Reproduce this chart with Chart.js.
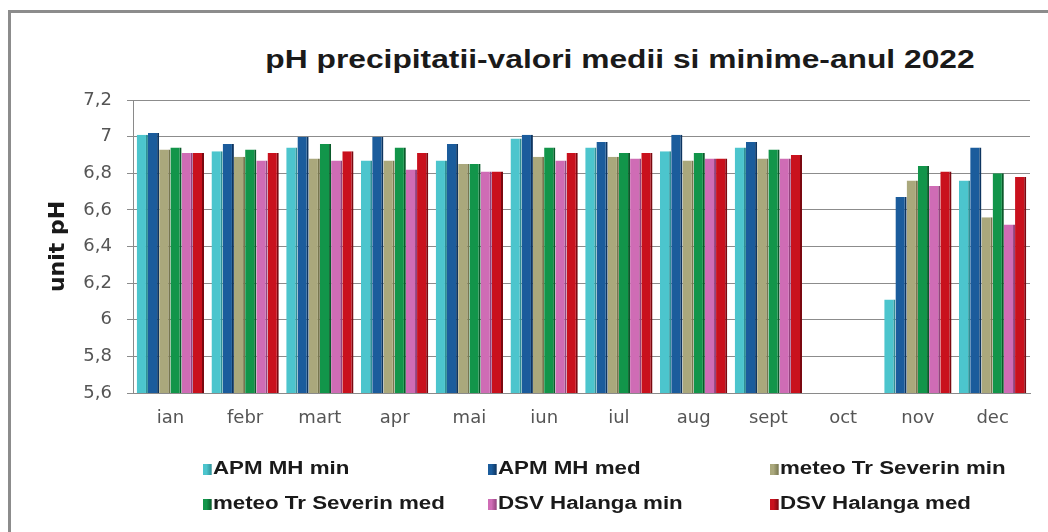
<!DOCTYPE html>
<html>
<head>
<meta charset="utf-8">
<script src="https://cdn.jsdelivr.net/npm/chart.js@4/dist/chart.umd.min.js"></script>
<style>
    html, body { margin: 0; padding: 0; background: #fff; overflow: hidden; }
    #wrap { position: relative; width: 1048px; height: 532px; }
    #frame { position: absolute; left: 8px; top: 10px; width: 1100px; height: 600px;
             border: 3px solid #8c8c8c; box-sizing: border-box; }
    #title { position: absolute; left: 620px; top: 45px; white-space: nowrap;
             font: bold 25px "Liberation Sans", Arial, sans-serif; color: #1a1a1a;
             transform: translateX(-50%) scaleX(1.27); }
    #chart { position: absolute; left: 0; top: 0; }
    .lg { position: absolute; white-space: nowrap; font: bold 18px "Liberation Sans", Arial, sans-serif;
          color: #1a1a1a; line-height: 20px; transform: scaleX(1.24); transform-origin: left center; }
    .lg i { display: inline-block; width: 7px; height: 11px; margin-right: 1px; vertical-align: -1px; }
</style>
</head>
<body>
<div id="wrap">
    <div id="frame"></div>
    <div id="title">pH precipitatii-valori medii si minime-anul 2022</div>
    <canvas id="chart" width="1048" height="532"></canvas>
    <div id="legend"></div>
</div>
<script>
var months = ['ian', 'febr', 'mart', 'apr', 'mai', 'iun', 'iul', 'aug', 'sept', 'oct', 'nov', 'dec'];

var apmMin    = [7.01, 6.92, 6.94, 6.87, 6.87, 6.99, 6.94, 6.92, 6.94, null, 6.11, 6.76];
var apmMed    = [7.02, 6.96, 7.00, 7.00, 6.96, 7.01, 6.97, 7.01, 6.97, null, 6.67, 6.94];
var meteoMin  = [6.93, 6.89, 6.88, 6.87, 6.85, 6.89, 6.89, 6.87, 6.88, null, 6.76, 6.56];
var meteoMed  = [6.94, 6.93, 6.96, 6.94, 6.85, 6.94, 6.91, 6.91, 6.93, null, 6.84, 6.80];
var dsvMin    = [6.91, 6.87, 6.87, 6.82, 6.81, 6.87, 6.88, 6.88, 6.88, null, 6.73, 6.52];
var dsvMed    = [6.91, 6.91, 6.92, 6.91, 6.81, 6.91, 6.91, 6.88, 6.90, null, 6.81, 6.78];

var yTicks = [5.6, 5.8, 6, 6.2, 6.4, 6.6, 6.8, 7, 7.2];

var series = [
    { label: 'APM MH min',           data: apmMin,   color: '#4cc5cd', edge: '#2f8f96' },
    { label: 'APM MH med',           data: apmMed,   color: '#1b5c9c', edge: '#0e3560' },
    { label: 'meteo Tr Severin min', data: meteoMin, color: '#aaa87c', edge: '#77764f' },
    { label: 'meteo Tr Severin med', data: meteoMed, color: '#12954a', edge: '#0a5a2a' },
    { label: 'DSV Halanga min',      data: dsvMin,   color: '#cf6cb5', edge: '#93437d' },
    { label: 'DSV Halanga med',      data: dsvMed,   color: '#c9111d', edge: '#7a0810' }
];

function fmt(v) {
    return String(Math.round(v * 10) / 10).replace('.', ',');
}

var chart = new Chart(document.getElementById('chart'), {
    type: 'bar',
    data: {
        labels: months,
        datasets: series.map(function(s) {
            return {
                label: s.label,
                data: s.data,
                backgroundColor: s.color,
                borderColor: s.edge,
                borderWidth: { left: 0, top: 0, bottom: 0, right: 2 },
                borderSkipped: false,
                categoryPercentage: 0.9,
                barPercentage: 1.0
            };
        })
    },
    options: {
        responsive: false,
        animation: false,
        layout: { padding: { left: 10, right: 18, top: 100, bottom: 95 } },
        plugins: {
            legend: { display: false },
            title: { display: false },
            tooltip: { enabled: false }
        },
        scales: {
            x: {
                grid: { display: false, drawTicks: false },
                border: { color: '#8a8a8a', width: 1 },
                ticks: { color: '#555', padding: 15, font: { family: 'DejaVu Sans', size: 18 } },
                afterFit: function(scale) { scale.height = 44; }
            },
            y: {
                min: 5.6,
                max: 7.2,
                afterBuildTicks: function(scale) {
                    scale.ticks = yTicks.map(function(v) { return { value: v }; });
                },
                grid: { color: '#8c8c8c', tickLength: 6 },
                border: { color: '#8a8a8a', width: 1 },
                ticks: {
                    color: '#555', padding: 15,
                    font: { family: 'DejaVu Sans', size: 18 },
                    callback: function(v) { return fmt(v); }
                },
                title: {
                    display: true,
                    text: 'unit pH',
                    color: '#1a1a1a',
                    padding: { top: 35, bottom: 0 },
                    font: { family: 'DejaVu Sans', size: 22, weight: 'bold' }
                },
                afterFit: function(scale) { scale.width = 123; }
            }
        }
    }
});

// legend as a 3-column grid, built from the datasets
var legendPos = [[203, 458], [488, 458], [770, 458], [203, 493], [488, 493], [770, 493]];
var legendBox = document.getElementById('legend');
chart.data.datasets.forEach(function(ds, i) {
    var el = document.createElement('div');
    el.className = 'lg';
    el.style.left = legendPos[i][0] + 'px';
    el.style.top = legendPos[i][1] + 'px';
    el.innerHTML = '<i style="background:linear-gradient(90deg,' + ds.backgroundColor + ' 40%,' + ds.borderColor + ')"></i>' + ds.label;
    legendBox.appendChild(el);
});
</script>
</body>
</html>
